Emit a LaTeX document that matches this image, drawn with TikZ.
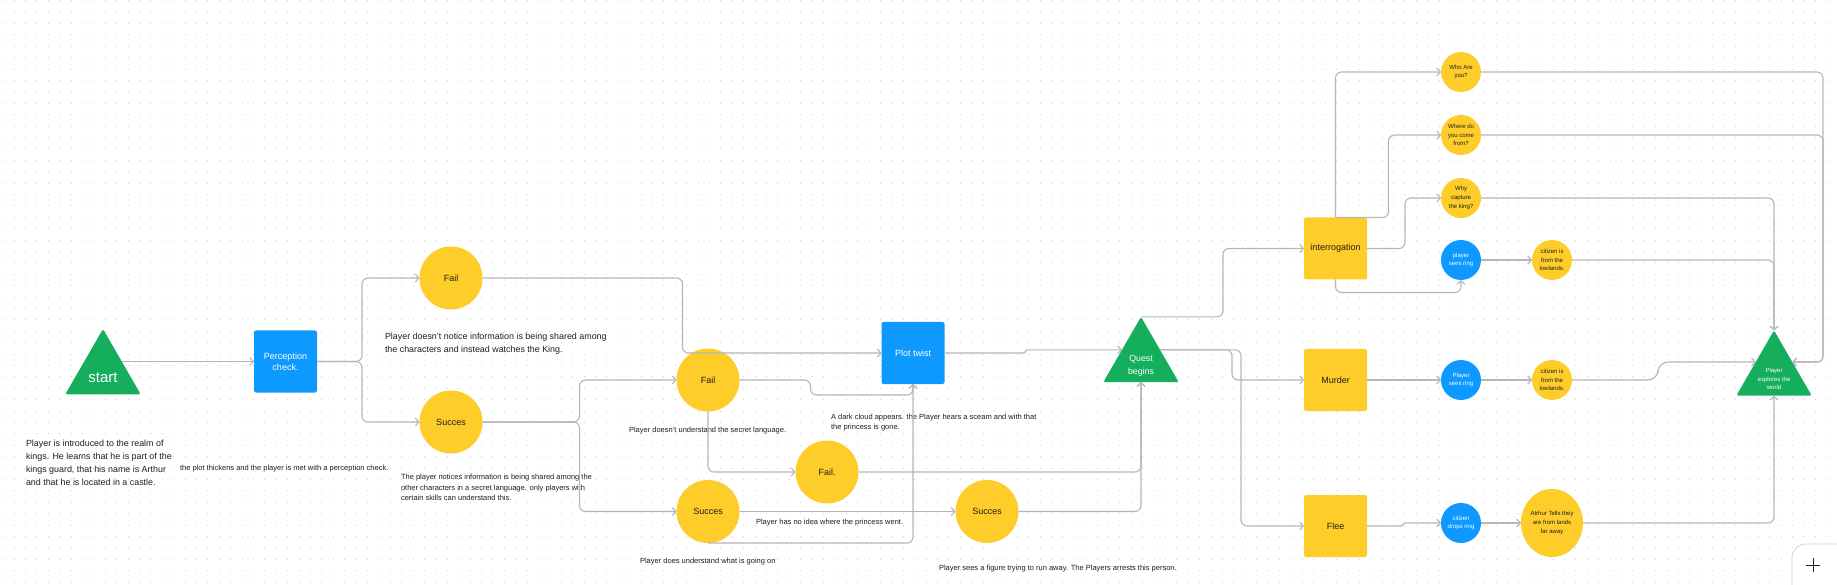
\documentclass[tikz,border=0pt]{standalone}
\usepackage{fontspec}
\setmainfont{Liberation Sans}
\usetikzlibrary{shapes.geometric,arrows.meta,calc}
\definecolor{figyellow}{RGB}{255,205,41}
\definecolor{figblue}{RGB}{13,153,255}
\definecolor{figgreen}{RGB}{20,174,92}
\definecolor{conngray}{RGB}{182,182,182}
\definecolor{dotgray}{RGB}{208,208,208}
\definecolor{inkdark}{RGB}{30,30,30}
\begin{document}
\begin{tikzpicture}[x=1pt,y=-1pt,
  every node/.style={inner sep=0pt,outer sep=0pt},
  conn/.style={draw=conngray,line width=1.1pt,rounded corners=6pt,
    -{Straight Barb[length=3.5pt,width=8pt,line width=1.1pt]}},
  ybox/.style={rectangle,fill=figyellow,minimum width=63pt,minimum height=62pt,
    rounded corners=2pt,text=inkdark,font=\fontsize{9}{11}\selectfont,align=center},
  bluebox/.style={ybox,fill=figblue,text=white},
  bigcirc/.style={circle,fill=figyellow,minimum size=63pt,text=inkdark,
    font=\fontsize{9}{11}\selectfont,align=center},
  smallcirc/.style={circle,fill=figyellow,minimum size=40pt,text=inkdark,
    font=\fontsize{6}{8.7}\selectfont,align=center},
  smallblue/.style={smallcirc,fill=figblue,text=white},
  tri/.style={regular polygon,regular polygon sides=3,minimum size=87pt,
    fill=figgreen,rounded corners=2pt},
  trilabel/.style={text=white,align=center},
  note/.style={anchor=west,align=left,text=inkdark},
  bignote/.style={note,font=\fontsize{8.9}{13}\selectfont},
  smallnote/.style={note,font=\fontsize{7.5}{10.7}\selectfont},
  dotrow/.style={draw=dotgray,line width=1.1pt,dash pattern=on 1.1pt off 10.3pt}
]
\clip (0,0) rectangle (1837,585);
\fill[white] (0,0) rectangle (1837,585);
% dotted grid
\foreach \r in {0,...,51}{
  \draw[dotrow] (2.15,{0.7+11.4*\r}) -- (1837,{0.7+11.4*\r});
}

% ---------- nodes ----------
\node[tri] (st) at (103,372.5) {};
\node[trilabel,font=\fontsize{15}{17}\selectfont] (stt) at (103,378) {start};
\node[bluebox] (pc) at (285.5,361.5) {Perception\\check.};

\node[bigcirc] (f1) at (451,278) {Fail};
\node[bigcirc] (s1) at (451,422) {Succes};
\node[bigcirc] (f2) at (708,380) {Fail};
\node[bigcirc] (s2) at (708,511.5) {Succes};
\node[bigcirc] (f3) at (827,472) {Fail.};
\node[bigcirc] (s3) at (987,511.5) {Succes};
\node[bluebox] (pt) at (913,353) {Plot twist};

\node[tri] (q) at (1141,360.4) {};
\node[trilabel,font=\fontsize{8.8}{12.7}\selectfont] (qt) at (1141,366) {Quest\\begins};

\node[ybox] (ir) at (1335.5,248.5) {interrogation};
\node[ybox] (mu) at (1335.5,380) {Murder};
\node[ybox] (fl) at (1335.5,526) {Flee};

\node[smallcirc] (wa) at (1461,72) {Who Are\\you?};
\node[smallcirc] (wd) at (1461,135) {Where do\\you come\\from?};
\node[smallcirc] (wc) at (1461,198) {Why\\capture\\the king?};
\node[smallblue] (sr1) at (1461,260) {player\\sees ring};
\node[smallcirc] (cl1) at (1552,260) {citizen is\\from the\\lowlands.};
\node[smallblue] (sr2) at (1461,380) {Player\\sees ring};
\node[smallcirc] (cl2) at (1552,380) {citizen is\\from the\\lowlands.};
\node[smallblue] (dr) at (1461,523) {citizen\\drops ring};
\node[ellipse,fill=figyellow,minimum width=62pt,minimum height=68pt,text=inkdark,
  font=\fontsize{6}{8.7}\selectfont,align=center] (at) at (1552,523)
  {Atrhur Tells they\\are from lands\\far away};

\node[tri] (pe) at (1774,373.9) {};
\node[trilabel,font=\fontsize{6}{8.7}\selectfont] (pet) at (1774,379) {Player\\explores the\\world};

% ---------- notes ----------
\node[bignote] (n0) at (26,462.5) {Player is introduced to the realm of\\kings. He learns that he is part of the\\kings guard, that his name is Arthur\\and that he is located in a castle.};
\node[smallnote] (n1) at (180,469) {the plot thickens and the player is met with a perception check.};
\node[bignote] (n2) at (385,343.5) {Player doesn't notice information is being shared among\\the characters and instead watches the King.};
\node[smallnote] (n3) at (401,487.5) {The player notices information is being shared among the\\other characters in a secret language. only players with\\certain skills can understand this.};
\node[smallnote] (n4) at (629,431) {Player doesn't understand the secret language.};
\node[smallnote] (n5) at (831,422.5) {A dark cloud appears. the Player hears a sceam and with that\\the princess is gone.};
\node[smallnote] (n6) at (756,523) {Player has no idea where the princess went.};
\node[smallnote] (n7) at (640,562) {Player does understand what is going on};
\node[smallnote] (n8) at (939,569) {Player sees a figure trying to run away. The Players arrests this person.};

% ---------- connectors ----------
\draw[conn] (pc.west -| st.30) -- (pc.west);
\draw[conn] (pc.east) -- ++(45,0) |- (f1.west);
\draw[conn] (pc.east) -- ++(45,0) |- (s1.west);
\draw[conn] (f1.east) -- ++(200,0) |- (pt.west);
\draw[conn] (s1.east) -- ++(97,0) |- (f2.west);
\draw[conn] (s1.east) -- ++(97,0) |- (s2.west);
\draw[conn] (f2.east) -| ++(71,15) -| (pt.south);
\draw[conn] (f2.south) |- (f3.west);
\draw[conn] (s2.east) -- (s3.west);
\draw[conn] (s2.south) -| (pt.south);
\draw[conn] (f3.east) -| (q.south);
\draw[conn] (s3.east) -| (q.south);
\draw[conn,rounded corners=1.5pt] (pt.east) -- ++(81,0) |- (q.151);
\draw[conn] (q.north) -- ++(82,0) |- (ir.west);
\draw[conn] (q.29) -- ++(72,0) |- (mu.west);
\draw[conn] (q.29) -- ++(81,0) |- (fl.west);

\draw[conn] (ir.north) |- (wa.west);
\draw[conn] (ir.north) -- ++(53,0) |- (wd.west);
\draw[conn] (ir.east) -- ++(38,0) |- (wc.west);
\draw[conn] (ir.south) -- ++(0,13) -| (sr1.south);
\draw[conn] (sr1.east) -- (cl1.west);
\draw[conn] (mu.east) -- (sr2.west);
\draw[conn] (sr2.east) -- (cl2.west);
\draw[conn,rounded corners=1.5pt] (fl.east) -- ++(36,0) |- (dr.west);
\draw[conn] (dr.east) -- (at.west);

\draw[conn] (wa.east) -- ++(342,0) |- (pe.33);
\draw[conn] (wd.east) -- ++(342,0) |- (pe.33);
\draw[conn] (wc.east) -| (pe.north);
\draw[conn] (cl1.east) -| (pe.north);
\draw[conn,rounded corners=10pt] (cl2.east) -- ++(86,0) |- (pe.147);
\draw[conn] (at.east) -| (pe.south);

% ---------- zoom button ----------
\node[draw=black!18,fill=white,rounded corners=14pt,minimum width=62pt,minimum height=62pt,
  anchor=north west,line width=0.8pt] (plusbtn) at (1792,544) {};
\coordinate (plusc) at (1813,565);
\draw[inkdark,line width=1pt] ($(plusc)+(-7,0)$) -- ($(plusc)+(7,0)$)
  ($(plusc)+(0,-7)$) -- ($(plusc)+(0,7)$);
\end{tikzpicture}
\end{document}
